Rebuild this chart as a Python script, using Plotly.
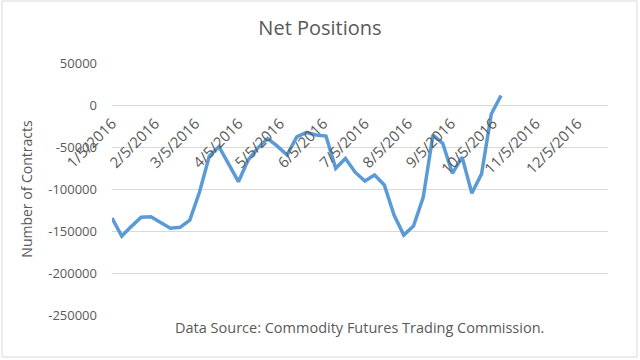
import plotly.graph_objects as go

dates = [
    "2016-01-05", "2016-01-12", "2016-01-19", "2016-01-26", "2016-02-02",
    "2016-02-09", "2016-02-16", "2016-02-23", "2016-03-01", "2016-03-08",
    "2016-03-15", "2016-03-22", "2016-03-29", "2016-04-05", "2016-04-12",
    "2016-04-19", "2016-04-26", "2016-05-03", "2016-05-10", "2016-05-17",
    "2016-05-24", "2016-05-31", "2016-06-07", "2016-06-14", "2016-06-21",
    "2016-06-28", "2016-07-05", "2016-07-12", "2016-07-19", "2016-07-26",
    "2016-08-02", "2016-08-09", "2016-08-16", "2016-08-23", "2016-08-30",
    "2016-09-06", "2016-09-13", "2016-09-20", "2016-09-27", "2016-10-04",
    "2016-10-11",
]
net_positions = [
    -134500, -156000, -144500, -133700, -133000,
    -140000, -146800, -145600, -137000, -103600,
    -61000, -49600, -70000, -91300, -65500,
    -51000, -40000, -49000, -59500, -38000,
    -32700, -35700, -37000, -75400, -63700,
    -80000, -90500, -83300, -95200, -131000,
    -154800, -144000, -110000, -35700, -45600,
    -81300, -62000, -105100, -82000, -10700,
    11300,
]
tick_dates = [
    "2016-01-05", "2016-02-05", "2016-03-05", "2016-04-05", "2016-05-05",
    "2016-06-05", "2016-07-05", "2016-08-05", "2016-09-05", "2016-10-05",
    "2016-11-05", "2016-12-05",
]
tick_labels = [
    "1/5/2016", "2/5/2016", "3/5/2016", "4/5/2016", "5/5/2016", "6/5/2016",
    "7/5/2016", "8/5/2016", "9/5/2016", "10/5/2016", "11/5/2016", "12/5/2016",
]
y_ticks = [50000, 0, -50000, -100000, -150000, -200000, -250000]
x_range = ["2016-01-05", "2016-12-27"]
y_range = [-250000, 50000]

FONT = "Open Sans"
GREY = "#595959"

fig = go.Figure()
fig.add_trace(go.Scatter(
    x=dates, y=net_positions, mode="lines",
    line=dict(color="#5b9bd5", width=3.5),
    hoverinfo="x+y", showlegend=False,
))

# position of the x axis at y = 0 (axis crosses at zero, like Excel)
x_pos = (0 - y_range[0]) / (y_range[1] - y_range[0])

fig.update_layout(
    width=640, height=360,
    margin=dict(l=112, r=32, t=63, b=45, autoexpand=False),
    paper_bgcolor="white", plot_bgcolor="white",
    font=dict(family=FONT, color=GREY, size=13),
    title=dict(text="Net Positions", x=0.5, xanchor="center", y=0.922,
               yanchor="middle", font=dict(size=20, color=GREY, family=FONT)),
    xaxis=dict(
        type="date", range=x_range, automargin=False,
        tickvals=tick_dates, ticktext=tick_labels, tickangle=-45,
        showgrid=False, zeroline=False, showline=False, ticks="",
        anchor="free", position=x_pos, ticklabelstandoff=6,
        tickfont=dict(size=15, color=GREY, family=FONT),
    ),
    yaxis=dict(
        range=y_range, tickvals=y_ticks, automargin=False,
        ticktext=[str(v) for v in y_ticks],
        showgrid=True, gridcolor="#d9d9d9", gridwidth=1,
        zeroline=False, showline=False, ticks="",
        ticklabelstandoff=14,
        tickfont=dict(size=13, color=GREY, family=FONT),
        title=dict(text="Number of Contracts", standoff=12,
                   font=dict(size=14, color=GREY, family=FONT)),
    ),
    annotations=[dict(
        text="Data Source: Commodity Futures Trading Commission.",
        xref="paper", yref="paper", x=(359 - 112) / 496, y=(315 - 327) / 252,
        xanchor="center", yanchor="middle", showarrow=False,
        font=dict(size=14.5, color=GREY, family=FONT),
    )],
    shapes=[dict(
        type="rect", xref="paper", yref="paper",
        x0=(2 - 112) / 496, x1=(637 - 112) / 496,
        y0=(315 - 357) / 252, y1=(315 - 1) / 252,
        line=dict(color="#d9d9d9", width=1), fillcolor="rgba(0,0,0,0)",
        layer="below",
    )],
)

fig.write_html("out.html", config={"displayModeBar": False},
               post_script="document.body.style.margin='0';")
